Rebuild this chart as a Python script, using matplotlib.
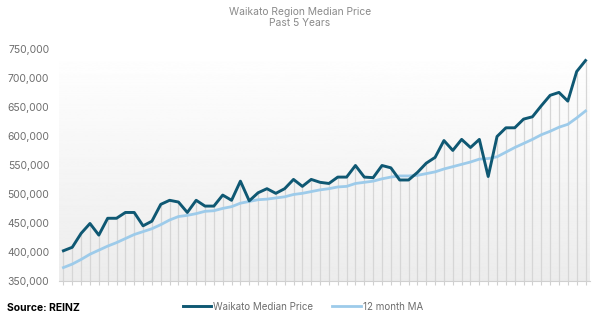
import matplotlib.pyplot as plt
import numpy as np

plt.rcParams['font.family'] = ['Inter', 'DejaVu Sans']

# === Datos (60 meses) ===
median_price = [402, 408, 432, 449, 429, 458, 458, 468, 468, 445,
                453, 482, 489, 486, 468, 489, 479, 479, 498, 489,
                522, 488, 502, 509, 501, 509, 525, 513, 525, 520,
                518, 529, 529, 549, 529, 528, 549, 545, 524, 524,
                537, 553, 563, 592, 575, 594, 580, 594, 530, 599,
                614, 614, 629, 633, 652, 670, 675, 660, 711, 730]
ma_12 = [373, 379, 387, 396, 403, 410, 416, 423, 430, 435,
         440, 447, 455, 461, 463, 466, 470, 471, 475, 478,
         484, 487, 490, 491, 493, 495, 499, 501, 504, 507,
         509, 512, 513, 518, 520, 522, 526, 529, 531, 531,
         532, 535, 538, 543, 547, 551, 555, 560, 561, 564,
         572, 580, 587, 594, 602, 608, 615, 620, 631, 643]
y_ticks = [350000, 400000, 450000, 500000, 550000, 600000, 650000, 700000, 750000]

price = np.array(median_price) * 1000
ma = np.array(ma_12) * 1000
x = np.arange(len(price))

dark = '#0f5873'
light = '#9dcbea'
grey_txt = '#6e6e6e'

fig = plt.figure(figsize=(6.02, 3.24), dpi=100)
ax = fig.add_axes([0.098, 0.133, 0.882, 0.716])

# fondo degradado
grad = np.linspace(1.0, 0.925, 256).reshape(-1, 1)
ax.imshow(grad, cmap='gray', vmin=0, vmax=1, aspect='auto',
          extent=[0, 1, 0, 1], transform=ax.transAxes, zorder=0)

# lineas verticales hasta el precio
ax.vlines(x, y_ticks[0], price, color='#d6d6d6', lw=0.9, zorder=1)

ax.plot(x, price, color=dark, lw=2.1, label='Waikato Median Price', zorder=3)
ax.plot(x, ma, color=light, lw=2.0, label='12 month MA', zorder=2)

ax.set_xlim(-0.5, len(x) - 0.5)
ax.set_ylim(y_ticks[0], y_ticks[-1])
ax.set_yticks(y_ticks)
ax.set_yticklabels([f'{v:,}' for v in y_ticks])
ax.set_xticks(x)
ax.set_xticklabels([])
ax.tick_params(axis='x', length=3, color='#d0d0d0', width=0.8)
ax.tick_params(axis='y', length=0, pad=7, labelsize=7.5, labelcolor=grey_txt)
for s in ['top', 'right', 'left']:
    ax.spines[s].set_visible(False)
ax.spines['bottom'].set_color('#d0d0d0')
ax.spines['bottom'].set_linewidth(0.8)

fig.text(0.498, 0.945, 'Waikato Region Median Price\nPast 5 Years', ha='center',
         va='center', fontsize=7.4, color='#8a8a8a', linespacing=1.15)

fig.text(0.012, 0.05, 'Source: REINZ', fontsize=7.5, fontweight='bold',
         color='black', va='center')

fig.legend(loc='center', bbox_to_anchor=(0.503, 0.053), ncol=2, frameon=False,
           fontsize=7, handlelength=2.9, handletextpad=0.2, columnspacing=2.0,
           labelcolor=grey_txt)

plt.savefig('out.png', dpi=100)
plt.close()
